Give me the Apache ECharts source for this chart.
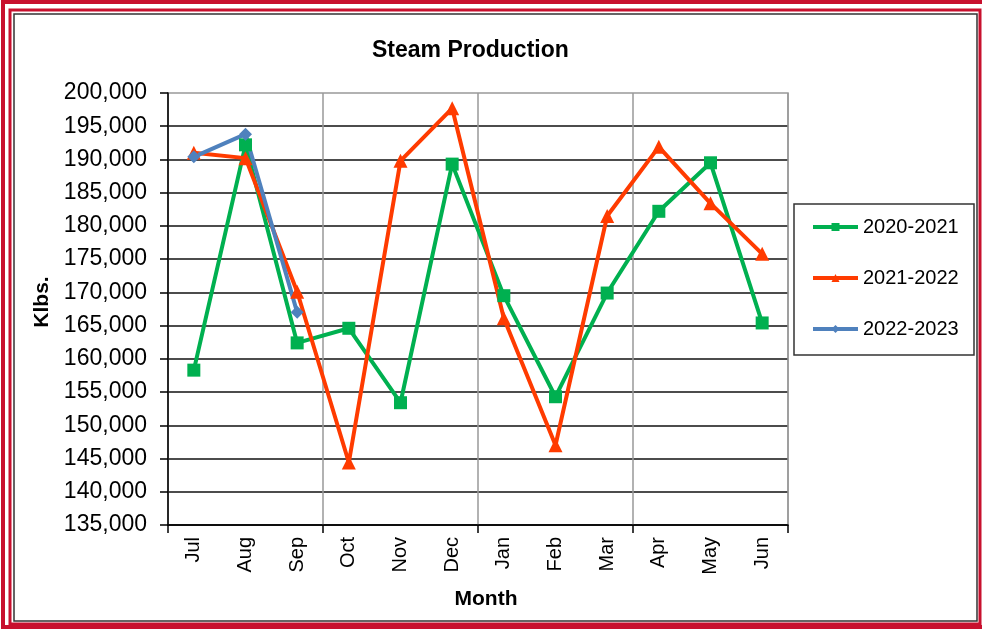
<!DOCTYPE html>
<html>
<head>
<meta charset="utf-8">
<title>Steam Production</title>
<script src="https://cdn.jsdelivr.net/npm/echarts@6/dist/echarts.min.js"></script>
<style>
    html, body { margin: 0; padding: 0; background: #fff; }
    #SteamChart { width: 982px; height: 629px; }
</style>
</head>
<body>
<div id="SteamChart"></div>
<script>
// months of the fiscal year
var months = ['Jul', 'Aug', 'Sep', 'Oct', 'Nov', 'Dec', 'Jan', 'Feb', 'Mar', 'Apr', 'May', 'Jun'];

// Klbs. per month
var fy2021 = [158300, 192200, 162400, 164600, 153400, 189300, 169500, 154300, 169900, 182200, 189500, 165400];
var fy2122 = [191000, 190200, 170100, 144400, 189800, 197700, 166100, 147000, 181500, 191900, 183400, 175800];
var fy2223 = [190400, 193800, 167000, null, null, null, null, null, null, null, null, null];

var seriesNames = ['2020-2021', '2021-2022', '2022-2023'];

var yMin = 135000;
var yMax = 200000;
var yStep = 5000;

var steamChart = echarts.init(document.getElementById('SteamChart'));

// quarter boundaries only (every 3 months)
function everyQuarter(index) {
    return index % 3 === 0;
}

/**
 * 折线图 蒸汽产量
 */
function drawSteamChart() {
    var font = 'Liberation Sans, Arial, sans-serif';
    steamChart.setOption({
        animation: false,
        backgroundColor: '#fff',
        textStyle: { fontFamily: font },
        title: {
            text: 'Steam Production',
            left: 367,
            top: 34,
            textStyle: { fontSize: 23, fontWeight: 'bold', color: '#000', fontFamily: font }
        },
        legend: {
            orient: 'vertical',
            left: 811,
            top: 216,
            padding: 0,
            itemWidth: 45,
            itemHeight: 10,
            itemGap: 29,
            lineStyle: { width: 4 },
            textStyle: { fontSize: 20, color: '#000', lineHeight: 22, fontFamily: font },
            data: seriesNames
        },
        grid: {
            left: 168,
            right: 194,
            top: 93,
            bottom: 104,
            show: true,
            borderColor: '#999',
            borderWidth: 1.5
        },
        xAxis: {
            type: 'category',
            data: months,
            name: 'Month',
            nameLocation: 'middle',
            nameGap: 64,
            nameTextStyle: { fontSize: 21, fontWeight: 'bold', color: '#000', padding: [0, 0, 0, 16] },
            axisLine: { lineStyle: { color: '#000', width: 1.5 } },
            axisTick: { show: true, interval: everyQuarter, length: 8, lineStyle: { color: '#000', width: 1.5 } },
            axisLabel: { rotate: 90, margin: 12, fontSize: 20, color: '#000', interval: 0 },
            splitLine: { show: true, interval: everyQuarter, lineStyle: { color: '#999', width: 1.5 } }
        },
        yAxis: {
            type: 'value',
            min: yMin,
            max: yMax,
            interval: yStep,
            name: 'Klbs.',
            nameLocation: 'middle',
            nameRotate: 90,
            nameGap: 115,
            nameTextStyle: { fontSize: 21, fontWeight: 'bold', color: '#000', padding: [0, 0, 0, 14] },
            axisLine: { show: true, lineStyle: { color: '#000', width: 1.5 } },
            axisTick: { show: true, length: 8, lineStyle: { color: '#000', width: 1.5 } },
            axisLabel: {
                margin: 21,
                fontSize: 23,
                color: '#000',
                formatter: function (v) { return echarts.format.addCommas(v); }
            },
            splitLine: { show: true, showMaxLine: false, lineStyle: { color: '#111', width: 1.6 } }
        },
        series: [
            {
                name: seriesNames[0],
                type: 'line',
                data: fy2021,
                symbol: 'rect',
                symbolSize: 13,
                color: '#00B050',
                lineStyle: { width: 4 }
            },
            {
                name: seriesNames[1],
                type: 'line',
                data: fy2122,
                symbol: 'triangle',
                symbolSize: 14,
                color: '#FF3B00',
                lineStyle: { width: 4 }
            },
            {
                name: seriesNames[2],
                type: 'line',
                data: fy2223,
                symbol: 'diamond',
                symbolSize: 13,
                color: '#4F81BD',
                lineStyle: { width: 4 }
            }
        ],
        graphic: [
            // 外框 双红线
            { type: 'rect', silent: true, shape: { x: 3, y: 2, width: 992, height: 625 },
              style: { fill: null, stroke: '#C8102E', lineWidth: 4 } },
            { type: 'rect', silent: true, shape: { x: 10, y: 10, width: 970, height: 614 },
              style: { fill: null, stroke: '#C8102E', lineWidth: 3 } },
            { type: 'rect', silent: true, shape: { x: 14, y: 14, width: 963, height: 607 },
              style: { fill: null, stroke: '#333', lineWidth: 1.5 } },
            // legend box
            { type: 'rect', silent: true, shape: { x: 794, y: 204, width: 180, height: 151 },
              style: { fill: null, stroke: '#333', lineWidth: 1.5 } }
        ]
    });
}

drawSteamChart();

window.onresize = function () {
    steamChart.resize();
}
</script>
</body>
</html>
